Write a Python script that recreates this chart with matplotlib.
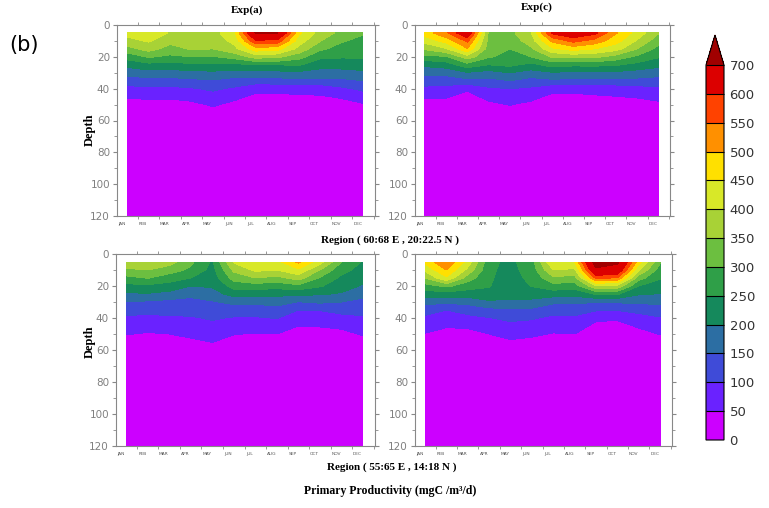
import numpy as np
import matplotlib.pyplot as plt

# month axis and depth levels (m)
months = ['JAN', 'FEB', 'MAR', 'APR', 'MAY', 'JUN', 'JUL', 'AUG', 'SEP', 'OCT', 'NOV', 'DEC']
depth = [5, 10, 15, 20, 25, 30, 35, 40, 50, 60, 120]

# colour levels of the shared colorbar
levels = [0, 50, 100, 150, 200, 250, 300, 350, 400, 450, 500, 550, 600, 700]
colors = ['#cc00ff', '#6a22ff', '#3f4bd8', '#2c6ea3', '#15895c', '#2f9f48',
          '#6cbf40', '#a8d236', '#d8e828', '#ffe000', '#ff9000', '#ff4200',
          '#dc0000', '#a00000']

# primary productivity profiles, one list per month (values at the depths above)
# Region ( 60:68 E , 20:22.5 N )
north_a = [
    [415, 385, 330, 270, 215, 170, 125, 85, 28, 10, 0],
    [440, 405, 370, 305, 235, 180, 130, 90, 30, 10, 0],
    [395, 365, 330, 290, 230, 180, 130, 88, 30, 10, 0],
    [385, 372, 355, 300, 240, 185, 138, 95, 38, 10, 0],
    [380, 368, 350, 295, 240, 190, 145, 108, 56, 15, 0],
    [440, 415, 385, 320, 238, 180, 130, 92, 36, 10, 0],
    [710, 590, 480, 370, 250, 180, 125, 60, 25, 8, 0],
    [705, 580, 470, 360, 250, 185, 130, 60, 25, 8, 0],
    [460, 425, 385, 320, 255, 190, 135, 65, 25, 8, 0],
    [380, 352, 310, 260, 220, 180, 135, 65, 28, 8, 0],
    [335, 305, 280, 255, 220, 182, 138, 90, 25, 10, 0],
    [305, 285, 270, 255, 225, 190, 150, 110, 45, 12, 0],
]
north_c = [
    [475, 418, 358, 283, 212, 160, 125, 88, 24, 8, 0],
    [540, 470, 395, 295, 225, 165, 125, 82, 28, 8, 0],
    [660, 560, 495, 375, 280, 195, 135, 55, 22, 6, 0],
    [342, 335, 325, 305, 250, 180, 135, 92, 38, 10, 0],
    [335, 318, 300, 285, 262, 200, 150, 100, 52, 15, 0],
    [395, 375, 340, 300, 235, 180, 130, 92, 38, 10, 0],
    [610, 510, 440, 355, 270, 195, 140, 60, 25, 8, 0],
    [650, 565, 470, 365, 260, 190, 135, 60, 25, 8, 0],
    [615, 530, 450, 360, 262, 192, 138, 65, 26, 8, 0],
    [505, 470, 420, 330, 255, 190, 135, 70, 28, 8, 0],
    [430, 395, 350, 290, 235, 180, 135, 78, 30, 8, 0],
    [355, 320, 285, 255, 215, 170, 130, 92, 38, 10, 0],
]
# Region ( 55:65 E , 14:18 N )
south_a = [
    [385, 340, 285, 235, 193, 150, 118, 92, 52, 15, 0],
    [395, 350, 302, 240, 196, 142, 115, 88, 46, 12, 0],
    [372, 322, 275, 228, 185, 135, 115, 93, 50, 14, 0],
    [310, 290, 250, 200, 162, 135, 118, 95, 60, 20, 0],
    [242, 232, 220, 205, 180, 145, 125, 105, 72, 30, 0],
    [405, 360, 320, 270, 218, 162, 125, 96, 52, 15, 0],
    [440, 410, 350, 275, 215, 160, 125, 95, 47, 14, 0],
    [432, 400, 335, 270, 212, 170, 130, 102, 50, 15, 0],
    [510, 440, 370, 285, 210, 148, 100, 72, 28, 10, 0],
    [420, 350, 295, 255, 205, 158, 102, 75, 30, 10, 0],
    [300, 265, 240, 222, 195, 150, 115, 85, 35, 10, 0],
    [245, 232, 215, 195, 165, 135, 112, 95, 55, 15, 0],
]
south_c = [
    [465, 410, 352, 280, 222, 165, 120, 90, 48, 14, 0],
    [545, 500, 440, 310, 230, 160, 100, 80, 30, 12, 0],
    [430, 385, 325, 272, 225, 165, 120, 85, 32, 10, 0],
    [262, 258, 255, 252, 240, 190, 135, 98, 50, 14, 0],
    [238, 235, 232, 228, 218, 190, 142, 110, 65, 22, 0],
    [280, 272, 262, 252, 225, 185, 140, 105, 58, 18, 0],
    [450, 400, 340, 280, 222, 160, 118, 90, 47, 14, 0],
    [445, 390, 330, 275, 215, 160, 118, 92, 50, 15, 0],
    [750, 680, 560, 390, 255, 152, 105, 58, 22, 8, 0],
    [715, 660, 545, 385, 255, 155, 102, 55, 22, 8, 0],
    [470, 405, 320, 250, 205, 160, 115, 80, 32, 10, 0],
    [305, 275, 255, 225, 198, 160, 125, 96, 52, 15, 0],
]

W, H = 769, 508
fig = plt.figure(figsize=(W / 100, H / 100), dpi=100)
serif = 'Liberation Serif'
grey = '#888888'


def panel(rect, prof):
    ax = fig.add_axes(rect)
    z = np.array(prof).T
    cs = ax.contourf(np.arange(12), depth, z, levels=levels, colors=colors,
                     extend='max', antialiased=False)
    ax.set_xlim(-0.47, 11.56)
    ax.set_ylim(120, 0)
    ax.set_xticks(np.arange(12) - 0.25)
    ax.set_xticklabels(months)
    ax.set_xticks(np.arange(12) + 0.5, minor=True)
    ax.tick_params(axis='x', which='major', length=0, labelsize=3.2,
                   labelcolor='#555555', pad=4.5)
    ax.tick_params(axis='x', which='minor', length=2.5, direction='out',
                   top=True, bottom=True, color=grey)
    ax.set_yticks(range(0, 121, 20))
    ax.set_yticks(range(10, 120, 20), minor=True)
    ax.tick_params(axis='y', which='both', direction='out', left=True,
                   right=True, color=grey, labelsize=7.5, labelcolor='#808080',
                   pad=2)
    ax.tick_params(axis='y', which='major', length=3)
    ax.tick_params(axis='y', which='minor', length=2.5)
    for s in ax.spines.values():
        s.set_color(grey)
        s.set_linewidth(0.8)
    return cs


def rect(x0, y0, x1, y1):
    return [x0 / W, 1 - y1 / H, (x1 - x0) / W, (y1 - y0) / H]


cs = panel(rect(117, 25, 375, 216), north_a)
panel(rect(415, 25, 670, 216), north_c)
panel(rect(116, 254, 375, 446), south_a)
panel(rect(415, 254, 672, 446), south_c)

# colorbar (extension triangle drawn inside the axes box)
cax = fig.add_axes(rect(706, 35, 724, 440))
cb = fig.colorbar(cs, cax=cax, ticks=levels, extendfrac=0.08, drawedges=True)
cb.outline.set_linewidth(0.8)
cb.dividers.set_linewidth(0.8)
cax.tick_params(length=0, labelsize=9.5, labelcolor='#333333', pad=4)

# texts
tkw = dict(fontfamily=serif, fontweight='bold', ha='center', va='center')
fig.text(247 / W, 1 - 10 / H, 'Exp(a)', fontsize=8, **tkw)
fig.text(537 / W, 1 - 7 / H, 'Exp(c)', fontsize=8, **tkw)
fig.text(90 / W, 1 - 130 / H, 'Depth', fontsize=9, rotation=90, **tkw)
fig.text(90 / W, 1 - 342 / H, 'Depth', fontsize=9, rotation=90, **tkw)
fig.text(390 / W, 1 - 240 / H, 'Region ( 60:68 E , 20:22.5 N )', fontsize=8, **tkw)
fig.text(392 / W, 1 - 467 / H, 'Region ( 55:65 E , 14:18 N )', fontsize=8, **tkw)
fig.text(390 / W, 1 - 491 / H, 'Primary Productivity (mgC /m³/d)', fontsize=8.5, **tkw)
fig.text(24 / W, 1 - 45 / H, '(b)', fontsize=15, ha='center', va='center')

fig.savefig('out.png', dpi=100)
